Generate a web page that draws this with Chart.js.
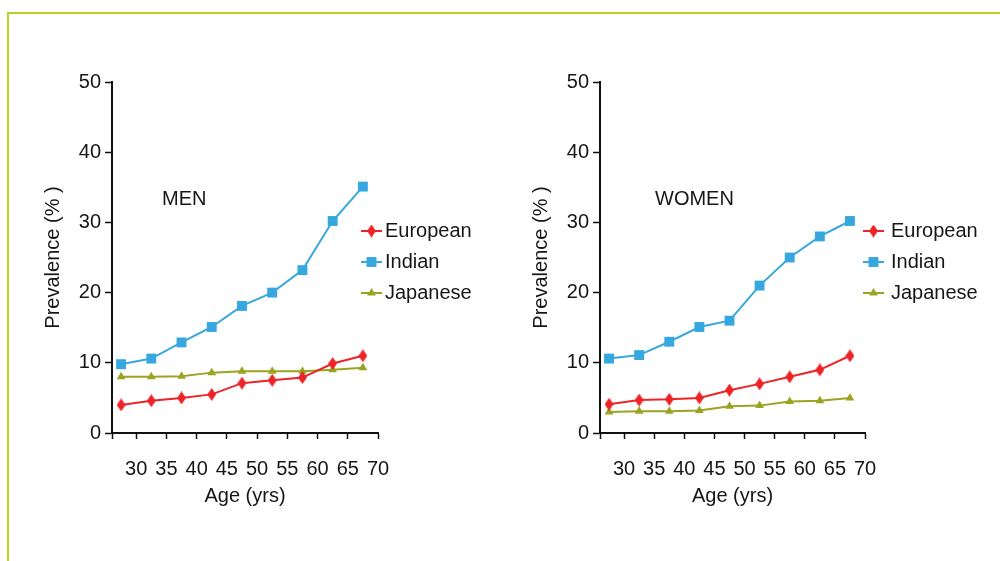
<!DOCTYPE html>
<html>
<head>
<meta charset="utf-8">
<script src="https://cdn.jsdelivr.net/npm/chart.js@4.4.1/dist/chart.umd.min.js"></script>
<style>
    html, body { margin: 0; padding: 0; background: #fff; }
    #page { position: relative; width: 1000px; height: 561px; overflow: hidden; }
    #frame { position: absolute; left: 7px; top: 12px; right: -10px; bottom: -10px;
             border-left: 2px solid #bccf27; border-top: 2px solid #bccf27; }
    canvas { position: absolute; top: 0; }
</style>
</head>
<body>
<div id="page">
    <div id="frame"></div>
    <canvas id="menChart" width="488" height="561" style="left:0"></canvas>
    <canvas id="womenChart" width="512" height="561" style="left:488px"></canvas>
</div>
<script>
// age group midpoints (25-29 ... 65-69)
const ages = [27.5, 32.5, 37.5, 42.5, 47.5, 52.5, 57.5, 62.5, 67.5];
const ageTicks = [30, 35, 40, 45, 50, 55, 60, 65, 70];
const seriesNames = ['European', 'Indian', 'Japanese'];

const menEuropean = [4.0, 4.6, 5.0, 5.5, 7.1, 7.5, 7.9, 9.9, 11.0];
const menIndian = [9.8, 10.6, 12.9, 15.1, 18.1, 20.0, 23.2, 30.2, 35.1];
const menJapanese = [8.0, 8.0, 8.1, 8.6, 8.8, 8.8, 8.8, 9.0, 9.3];

const womenEuropean = [4.1, 4.7, 4.8, 5.0, 6.1, 7.0, 8.0, 9.0, 11.0];
const womenIndian = [10.6, 11.1, 13.0, 15.1, 16.0, 21.0, 25.0, 28.0, 30.2];
const womenJapanese = [3.0, 3.1, 3.1, 3.2, 3.8, 3.9, 4.5, 4.6, 5.0];

const FONT = '"Liberation Sans", Arial, Helvetica, sans-serif';
const TEXT = '#161616';
const RED = '#ec2428', BLUE = '#36a8df', OLIVE = '#99a51f';

// tall thin diamond used for the European series
function diamondMarker(color) {
    const c = document.createElement('canvas');
    c.width = 9; c.height = 13;
    const g = c.getContext('2d');
    g.fillStyle = color;
    g.beginPath();
    g.moveTo(4.5, 0); g.lineTo(9, 6.5); g.lineTo(4.5, 13); g.lineTo(0, 6.5);
    g.closePath();
    g.fill();
    return c;
}

function drawMarker(ctx, style, r, x, y, color) {
    ctx.fillStyle = color;
    if (style instanceof HTMLCanvasElement) {
        ctx.drawImage(style, x - style.width / 2, y - style.height / 2);
    } else if (style === 'rect') {
        const s = Math.SQRT1_2 * r;
        ctx.fillRect(x - s, y - s, 2 * s, 2 * s);
    } else if (style === 'triangle') {
        ctx.beginPath();
        ctx.moveTo(x, y - r);
        ctx.lineTo(x + r * Math.sin(2 * Math.PI / 3), y + r / 2);
        ctx.lineTo(x - r * Math.sin(2 * Math.PI / 3), y + r / 2);
        ctx.closePath();
        ctx.fill();
    }
}

// panel caption (MEN / WOMEN) and the line-style legend sitting beside the plot
const panelDecor = {
    id: 'panelDecor',
    afterDraw(chart, args, opts) {
        const ctx = chart.ctx;
        ctx.save();
        ctx.font = '20px ' + FONT;
        ctx.textBaseline = 'middle';
        ctx.textAlign = 'left';
        ctx.fillStyle = TEXT;
        ctx.fillText(opts.label, opts.labelX, opts.labelY);

        chart.data.datasets.forEach((ds, i) => {
            const y = opts.legendY + i * opts.legendStep;
            ctx.strokeStyle = ds.borderColor;
            ctx.lineWidth = 2;
            ctx.beginPath();
            ctx.moveTo(opts.legendX, y);
            ctx.lineTo(opts.legendX + 21, y);
            ctx.stroke();
            drawMarker(ctx, ds.pointStyle, ds.pointRadius, opts.legendX + 10.5, y, ds.backgroundColor);
            ctx.fillStyle = TEXT;
            ctx.fillText(ds.label, opts.legendX + opts.textGap, y);
        });
        ctx.restore();
    }
};

function makeDataset(name, values, color, style, radius) {
    return {
        label: name,
        data: ages.map((a, i) => ({ x: a, y: values[i] })),
        borderColor: color,
        backgroundColor: color,
        borderWidth: 2,
        pointStyle: style,
        pointRadius: radius,
        pointBorderWidth: 0,
        tension: 0
    };
}

function buildChart(canvasId, eur, ind, jap, rightPad, decor) {
    return new Chart(document.getElementById(canvasId).getContext('2d'), {
        type: 'line',
        data: {
            datasets: [
                makeDataset(seriesNames[0], eur, RED, diamondMarker(RED), 6),
                makeDataset(seriesNames[1], ind, BLUE, 'rect', 7),
                makeDataset(seriesNames[2], jap, OLIVE, 'triangle', 5)
            ]
        },
        options: {
            responsive: false,
            animation: false,
            layout: { padding: { left: 0, right: rightPad, top: 82, bottom: 0 } },
            plugins: {
                legend: { display: false },
                tooltip: { enabled: false },
                panelDecor: decor
            },
            scales: {
                x: {
                    type: 'linear',
                    min: 26,
                    max: 70,
                    afterBuildTicks: (scale) => {
                        scale.ticks = [{ value: 26 }].concat(ageTicks.map((v) => ({ value: v })));
                    },
                    afterFit: (scale) => { scale.height = 128; },
                    grid: { display: true, drawOnChartArea: false, drawTicks: true, tickLength: 6, tickWidth: 1.5, tickColor: '#111' },
                    border: { display: true, color: '#111', width: 2 },
                    ticks: {
                        autoSkip: false,
                        maxRotation: 0,
                        padding: 18,
                        color: TEXT,
                        font: { family: FONT, size: 20 },
                        callback: (v) => (ageTicks.includes(v) ? String(v) : '')
                    },
                    title: {
                        display: true,
                        text: 'Age (yrs)',
                        color: TEXT,
                        font: { family: FONT, size: 20 },
                        padding: { top: 0, bottom: 53 }
                    }
                },
                y: {
                    min: 0,
                    max: 50,
                    afterFit: (scale) => { scale.width = 112; },
                    grid: { display: true, drawOnChartArea: false, drawTicks: true, tickLength: 7, tickWidth: 1.5, tickColor: '#111' },
                    border: { display: true, color: '#111', width: 2 },
                    ticks: {
                        stepSize: 10,
                        padding: 4,
                        color: TEXT,
                        font: { family: FONT, size: 20 }
                    },
                    title: {
                        display: true,
                        text: 'Prevalence (% )',
                        color: TEXT,
                        font: { family: FONT, size: 20 },
                        padding: { top: 41, bottom: 0 }
                    }
                }
            }
        },
        plugins: [panelDecor]
    });
}

buildChart('menChart', menEuropean, menIndian, menJapanese, 110,
    { label: 'MEN', labelX: 162, labelY: 199, legendX: 361, legendY: 231, legendStep: 31, textGap: 24 });
buildChart('womenChart', womenEuropean, womenIndian, womenJapanese, 135,
    { label: 'WOMEN', labelX: 167, labelY: 199, legendX: 375, legendY: 231, legendStep: 31, textGap: 28 });
</script>
</body>
</html>
